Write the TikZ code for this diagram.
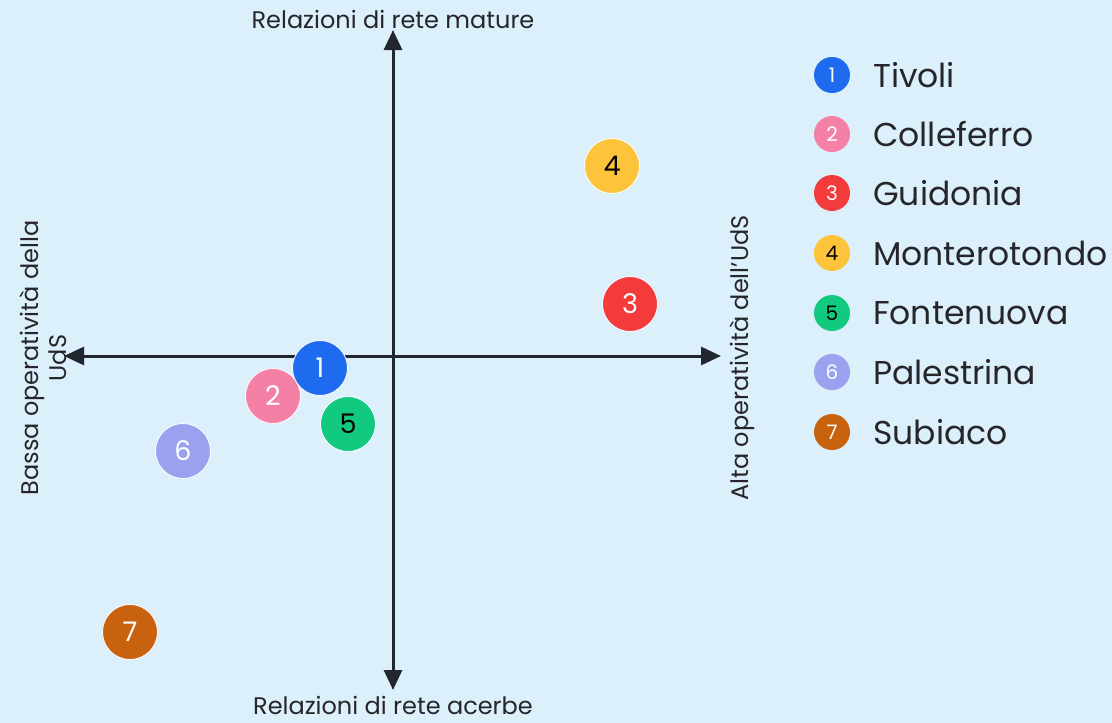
\documentclass[tikz,border=0pt]{standalone}
\usepackage{fontspec}
\setmainfont{Poppins}
\usetikzlibrary{arrows.meta}
\definecolor{bg}{RGB}{220,240,252}
\definecolor{axis}{RGB}{34,38,46}
\definecolor{txt}{RGB}{38,38,42}
\definecolor{c1}{RGB}{31,107,240}
\definecolor{c2}{RGB}{245,128,166}
\definecolor{c3}{RGB}{243,59,59}
\definecolor{c4}{RGB}{253,196,59}
\definecolor{c5}{RGB}{18,201,128}
\definecolor{c6}{RGB}{154,162,240}
\definecolor{c7}{RGB}{200,98,14}
\begin{document}
\begin{tikzpicture}[x=1pt,y=-1pt,
  axisline/.style={draw=axis,line width=3pt,-{Triangle[length=20pt,width=18pt]}},
  axislabel/.style={text=txt,font=\fontsize{24}{28}\selectfont,inner sep=0pt,align=center},
  bigdot/.style={circle,minimum size=55pt,inner sep=0pt,draw=white,line width=0.8pt,font=\fontsize{27}{27}\selectfont},
  legdot/.style={circle,minimum size=36pt,inner sep=0pt,font=\fontsize{20}{20}\selectfont},
  legtext/.style={anchor=west,inner sep=0pt,text=txt,font=\fontsize{33}{36}\selectfont}
]
\useasboundingbox[fill=bg] (0,0) rectangle (1112,723);
\coordinate (o) at (393,356);
\coordinate (top) at (393,30);
\coordinate (bot) at (393,690);
\coordinate (lft) at (64,356);
\coordinate (rgt) at (721,356);
\draw[axisline] (o) -- (top);
\draw[axisline] (o) -- (bot);
\draw[axisline] (o) -- (lft);
\draw[axisline] (o) -- (rgt);
\node[axislabel] (ltop) at (393,19) {Relazioni di rete mature};
\node[axislabel] (lbot) at (393,705) {Relazioni di rete acerbe};
\node[axislabel,rotate=90] (llft) at (43,358) {Bassa operatività della\\UdS};
\node[axislabel,rotate=90] (lrgt) at (742,358) {Alta operatività dell'UdS};
% data points
\node[bigdot,fill=c2,text=white] (p2) at (273,396) {2};
\node[bigdot,fill=c1,text=white] (p1) at (320,368) {1};
\node[bigdot,fill=c5,text=black] (p5) at (348,424) {5};
\node[bigdot,fill=c6,text=white] (p6) at (183,451) {6};
\node[bigdot,fill=c7,text=white] (p7) at (130,632) {7};
\node[bigdot,fill=c4,text=black] (p4) at (612,166) {4};
\node[bigdot,fill=c3,text=white] (p3) at (630,304) {3};
% legend
\node[legdot,fill=c1,text=white] (g1) at (832,75) {1};
\node[legdot,fill=c2,text=white] (g2) at (832,134) {2};
\node[legdot,fill=c3,text=white] (g3) at (832,193) {3};
\node[legdot,fill=c4,text=black] (g4) at (832,253) {4};
\node[legdot,fill=c5,text=black] (g5) at (832,313) {5};
\node[legdot,fill=c6,text=white] (g6) at (832,372) {6};
\node[legdot,fill=c7,text=white] (g7) at (832,432) {7};
\node[legtext] (t1) at (873,75) {Tivoli};
\node[legtext] (t2) at (873,134) {Colleferro};
\node[legtext] (t3) at (873,193) {Guidonia};
\node[legtext] (t4) at (873,253) {Monterotondo};
\node[legtext] (t5) at (873,313) {Fontenuova};
\node[legtext] (t6) at (873,372) {Palestrina};
\node[legtext] (t7) at (873,432) {Subiaco};
\end{tikzpicture}
\end{document}
